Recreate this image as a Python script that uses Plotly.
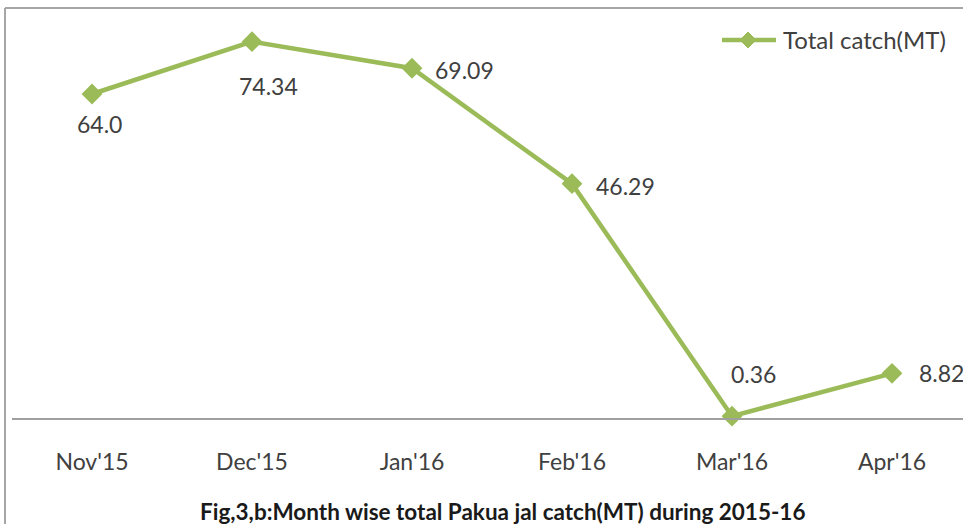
import plotly.graph_objects as go

months = ["Nov'15", "Dec'15", "Jan'16", "Feb'16", "Mar'16", "Apr'16"]
catch = [64.0, 74.34, 69.09, 46.29, 0.36, 8.82]
label_text = ["64.0", "74.34", "69.09", "46.29", "0.36", "8.82"]
series_name = "Total catch(MT)"
title_text = "Fig,3,b:Month wise total Pakua jal catch(MT) during 2015-16"

GREEN = "#9BBB59"
TXT = "#404040"
FONT = "Lato"

W, H = 963, 524
L, T, B = 12, 13, 106
plot_w = W - L
plot_h = H - T - B


def px_x(p):
    return (p - L) / plot_w


def px_y(p):
    return (H - B - p) / plot_h


fig = go.Figure()
fig.add_trace(go.Scatter(
    x=list(range(len(months))), y=catch, mode="lines+markers", name=series_name,
    line=dict(color=GREEN, width=4.5),
    marker=dict(symbol="diamond", size=16, color=GREEN),
    cliponaxis=False, showlegend=False, hoverinfo="skip",
))

# label placement (anchor, xshift, yshift in px)
placement = [("center", 7, -30), ("center", 16, -44), ("left", 21, -2),
             ("left", 22, -2), ("center", 21, 42), ("left", 25, 0)]
for i, (v, t) in enumerate(zip(catch, label_text)):
    anc, dx, dy = placement[i]
    fig.add_annotation(x=i, y=v, text=t, showarrow=False, xanchor=anc,
                       yanchor="middle", xshift=dx, yshift=dy,
                       font=dict(family=FONT, size=23, color=TXT))

# title
fig.add_annotation(xref="paper", yref="paper", x=px_x(502), y=px_y(511),
                   xanchor="center", yanchor="middle",
                   text="<b>" + title_text + "</b>", showarrow=False,
                   font=dict(family=FONT, size=22.5, color="#1a1a1a"))

# manual legend
fig.add_shape(type="line", xref="paper", yref="paper",
              x0=px_x(722), x1=px_x(776), y0=px_y(40), y1=px_y(40),
              line=dict(color=GREEN, width=4.5))
fig.add_shape(type="path", xref="paper", yref="paper",
              xsizemode="pixel", ysizemode="pixel",
              xanchor=px_x(748), yanchor=px_y(40),
              path="M -8 0 L 0 -8 L 8 0 L 0 8 Z",
              fillcolor=GREEN, line=dict(color=GREEN, width=1))
fig.add_annotation(xref="paper", yref="paper", x=px_x(781), y=px_y(40),
                   xanchor="left", yanchor="middle", text=series_name,
                   showarrow=False, font=dict(family=FONT, size=24, color=TXT))

# frame (left and top borders)
frame = dict(color="#A6A6A6", width=2)
fig.add_shape(type="line", xref="paper", yref="paper", x0=px_x(5), x1=px_x(5),
              y0=px_y(530), y1=px_y(8), line=frame)
fig.add_shape(type="line", xref="paper", yref="paper", x0=px_x(5), x1=px_x(975),
              y0=px_y(8), y1=px_y(8), line=frame)

fig.update_layout(
    width=W, height=H,
    margin=dict(l=L, r=0, t=T, b=B),
    paper_bgcolor="white", plot_bgcolor="white",
    font=dict(family=FONT, size=20, color=TXT),
    showlegend=False,
    hovermode=False,
    xaxis=dict(range=[-0.5, (W - 92) / 160], tickvals=list(range(len(months))),
               ticktext=months, showgrid=False, zeroline=False,
               showline=True, linecolor="#A0A0A0", linewidth=1.5,
               ticks="outside", ticklen=23, tickcolor="rgba(0,0,0,0)",
               tickfont=dict(family=FONT, size=23, color=TXT)),
    yaxis=dict(range=[0, 80], visible=False),
)

fig.write_html("out.html", config={"displayModeBar": False, "staticPlot": True},
               post_script="document.body.style.margin='0px';document.body.style.overflow='hidden';")
